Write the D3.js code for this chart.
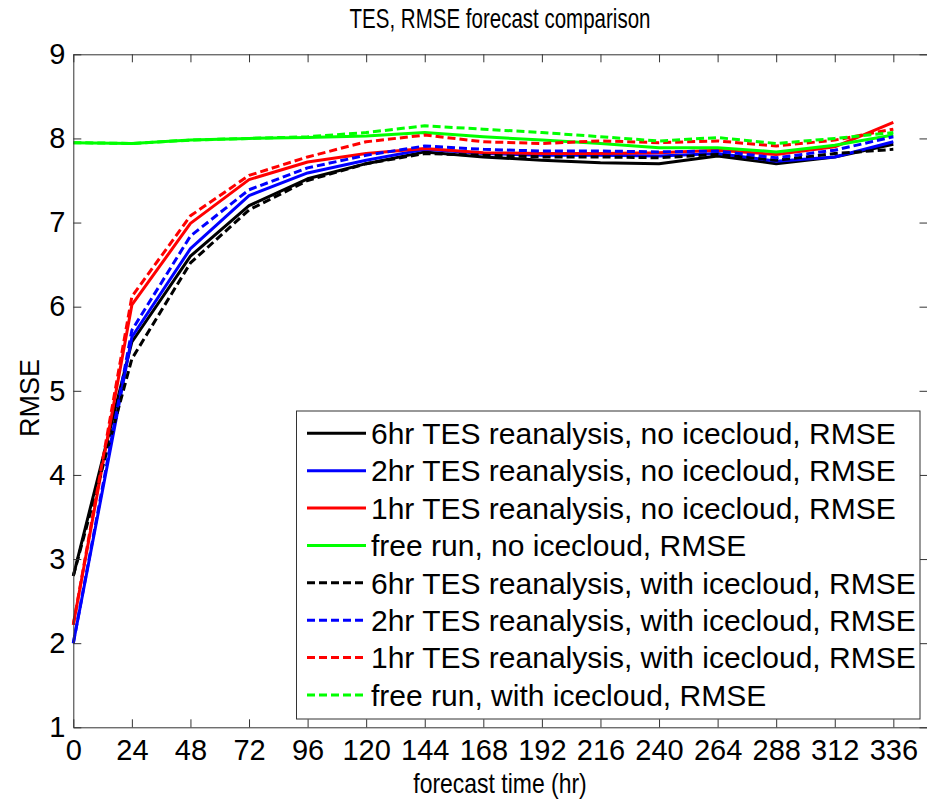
<!DOCTYPE html>
<html>
<head>
<meta charset="utf-8">
<script src="https://cdn.jsdelivr.net/npm/d3@7"></script>
<style>
html,body{margin:0;padding:0;background:#fff;}
svg{display:block;font-family:"Liberation Sans",Arial,Helvetica,sans-serif;}
</style>
</head>
<body>
<svg id="chart" width="927" height="803"></svg>
<script>
// ---- data ----
const hours = [0, 24, 48, 72, 96, 120, 144, 168, 192, 216, 240, 264, 288, 312, 336];
const xTickLabels = [0, 24, 48, 72, 96, 120, 144, 168, 192, 216, 240, 264, 288, 312, 336];
const yTickLabels = [1, 2, 3, 4, 5, 6, 7, 8, 9];

const tes6NoIce   = [2.80, 5.58, 6.60, 7.20, 7.52, 7.70, 7.84, 7.78, 7.74, 7.71, 7.70, 7.79, 7.70, 7.78, 7.93];
const tes2NoIce   = [2.00, 5.64, 6.69, 7.32, 7.59, 7.74, 7.87, 7.82, 7.80, 7.80, 7.79, 7.82, 7.73, 7.78, 7.96];
const tes1NoIce   = [2.22, 6.02, 6.99, 7.51, 7.72, 7.82, 7.88, 7.83, 7.82, 7.82, 7.83, 7.86, 7.81, 7.90, 8.19];
const freeNoIce   = [7.95, 7.94, 7.98, 8.00, 8.01, 8.03, 8.07, 8.02, 7.98, 7.94, 7.89, 7.89, 7.84, 7.92, 8.04];
const tes6WithIce = [2.80, 5.38, 6.52, 7.15, 7.50, 7.70, 7.82, 7.80, 7.78, 7.78, 7.77, 7.81, 7.74, 7.82, 7.87];
const tes2WithIce = [2.00, 5.72, 6.84, 7.39, 7.65, 7.80, 7.91, 7.87, 7.85, 7.85, 7.84, 7.85, 7.77, 7.86, 8.02];
const tes1WithIce = [2.22, 6.12, 7.08, 7.56, 7.78, 7.96, 8.04, 7.96, 7.94, 7.97, 7.95, 7.97, 7.91, 7.98, 8.11];
const freeWithIce = [7.95, 7.94, 7.98, 8.00, 8.02, 8.07, 8.15, 8.11, 8.07, 8.02, 7.97, 8.01, 7.94, 8.00, 8.07];

const seriesNames = [
  "6hr TES reanalysis, no icecloud, RMSE",
  "2hr TES reanalysis, no icecloud, RMSE",
  "1hr TES reanalysis, no icecloud, RMSE",
  "free run, no icecloud, RMSE",
  "6hr TES reanalysis, with icecloud, RMSE",
  "2hr TES reanalysis, with icecloud, RMSE",
  "1hr TES reanalysis, with icecloud, RMSE",
  "free run, with icecloud, RMSE"
];
const seriesValues = [tes6NoIce, tes2NoIce, tes1NoIce, freeNoIce, tes6WithIce, tes2WithIce, tes1WithIce, freeWithIce];
const seriesColors = ["#000000", "#0000ff", "#ff0000", "#00ff00", "#000000", "#0000ff", "#ff0000", "#00ff00"];
const seriesDashed = [false, false, false, false, true, true, true, true];

// ---- layout ----
const svg = d3.select("#chart");
const L = 73.3, R = 927.5, T = 54.3, B = 727.3;
const x = d3.scaleLinear().domain([0, 350]).range([L, R]);
const y = d3.scaleLinear().domain([1, 9]).range([B, T]);
const axisColor = "#333";
const tickLen = 8;

// lines
const line = d3.line().x((d, i) => x(hours[i])).y(d => y(d));
const g = svg.append("g");
seriesValues.forEach((vals, k) => {
  g.append("path")
    .datum(vals)
    .attr("d", line)
    .attr("fill", "none")
    .attr("stroke", seriesColors[k])
    .attr("stroke-width", 3)
    .attr("stroke-linejoin", "round")
    .attr("stroke-dasharray", seriesDashed[k] ? "8,4" : null);
});

// axes (box with inward ticks on all sides)
const xAxisB = d3.axisBottom(x).tickValues(xTickLabels).tickSizeInner(-tickLen).tickSizeOuter(0).tickPadding(12);
const xAxisT = d3.axisTop(x).tickValues(xTickLabels).tickSizeInner(-tickLen).tickSizeOuter(0).tickFormat("");
const yAxisL = d3.axisLeft(y).tickValues(yTickLabels).tickSizeInner(-tickLen).tickSizeOuter(0).tickPadding(8);
const yAxisR = d3.axisRight(y).tickValues(yTickLabels).tickSizeInner(-tickLen).tickSizeOuter(0).tickFormat("");

function styleAxis(sel) {
  sel.selectAll("path.domain").attr("stroke", axisColor).attr("stroke-width", 1);
  sel.selectAll(".tick line").attr("stroke", axisColor).attr("stroke-width", 1);
  sel.selectAll(".tick text").attr("fill", "#000").attr("font-size", 29)
     .attr("font-family", "'Liberation Sans', Arial, sans-serif");
}
const gxb = svg.append("g").attr("transform", `translate(0,${B})`).call(xAxisB); styleAxis(gxb);
gxb.selectAll(".tick text").attr("dy", "0.71em");
const gxt = svg.append("g").attr("transform", `translate(0,${T})`).call(xAxisT); styleAxis(gxt);
const gyl = svg.append("g").attr("transform", `translate(${L},0)`).call(yAxisL); styleAxis(gyl);
const gyr = svg.append("g").attr("transform", `translate(${R},0)`).call(yAxisR); styleAxis(gyr);

// title and labels (condensed horizontally like the original raster fonts)
svg.append("text").attr("transform", "translate(500,28) scale(0.76,1)")
  .attr("text-anchor", "middle").attr("font-size", 27)
  .text("TES, RMSE forecast comparison");
svg.append("text").attr("transform", "translate(500,793) scale(0.82,1)")
  .attr("text-anchor", "middle").attr("font-size", 28)
  .text("forecast time (hr)");
svg.append("text").attr("transform", `translate(39,398) rotate(-90)`)
  .attr("text-anchor", "middle").attr("font-size", 27)
  .text("RMSE");

// legend
const lg = svg.append("g");
const lx0 = 296.5, ly0 = 411, lx1 = 920, ly1 = 719;
lg.append("rect").attr("x", lx0).attr("y", ly0).attr("width", lx1 - lx0).attr("height", ly1 - ly0)
  .attr("fill", "#fff").attr("stroke", axisColor).attr("stroke-width", 1);
const rowY = d3.scaleLinear().domain([0, 7]).range([433.3, 695]);
seriesNames.forEach((name, k) => {
  const yy = rowY(k);
  lg.append("line").attr("x1", 307).attr("x2", 366).attr("y1", yy).attr("y2", yy)
    .attr("stroke", seriesColors[k]).attr("stroke-width", 3)
    .attr("stroke-dasharray", seriesDashed[k] ? "8,4" : null);
  lg.append("text").attr("x", 371).attr("y", yy).attr("dy", "0.36em")
    .attr("font-size", 30).text(name);
});
</script>
</body>
</html>
